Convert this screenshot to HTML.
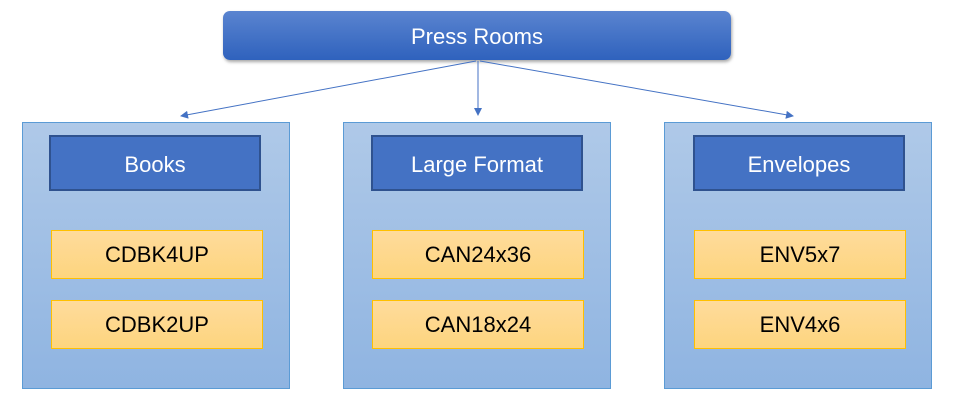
<!DOCTYPE html>
<html><head><style>
body{margin:0;width:956px;height:410px;background:#fff;position:relative;font-family:"Liberation Sans",sans-serif;overflow:hidden}
.a{position:absolute;box-sizing:border-box;display:flex;align-items:center;justify-content:center}
.top{left:223px;top:11px;width:508px;height:49px;border-radius:7px;background:linear-gradient(#5a84d0,#2f62bd);color:#fff;font-size:22px;box-shadow:1px 2px 3px rgba(0,0,0,.35);padding-top:3px}
.p{top:122px;width:268px;height:267px;border:1px solid #5b9bd5;background:linear-gradient(#afc9e8,#8fb4e1)}
.h{top:135px;width:212px;height:56px;background:#4472c4;border:2px solid #2f528f;color:#fff;font-size:22px;padding-top:3px}
.y{width:212px;height:49px;border:1px solid #ffc000;background:linear-gradient(#fedb9c,#fdd57e);color:#000;font-size:22px;padding-top:1px}
</style></head><body>
<div class="a top">Press Rooms</div>
<svg style="position:absolute;left:0;top:0" width="956" height="410">
<defs><marker id="m" markerWidth="8" markerHeight="8" refX="7" refY="4" orient="auto" markerUnits="userSpaceOnUse"><path d="M0,0L8,4L0,8z" fill="#4472c4"/></marker></defs>
<g stroke="#4472c4" stroke-width="1" fill="none">
<line x1="476" y1="61" x2="181" y2="116" marker-end="url(#m)"/>
<line x1="478" y1="61" x2="478" y2="115" marker-end="url(#m)"/>
<line x1="480" y1="61" x2="793" y2="116" marker-end="url(#m)"/>
</g></svg>
<div class="a p" style="left:22px"></div>
<div class="a p" style="left:343px"></div>
<div class="a p" style="left:664px"></div>
<div class="a h" style="left:49px">Books</div>
<div class="a h" style="left:371px">Large Format</div>
<div class="a h" style="left:693px">Envelopes</div>
<div class="a y" style="left:51px;top:230px">CDBK4UP</div>
<div class="a y" style="left:51px;top:300px">CDBK2UP</div>
<div class="a y" style="left:372px;top:230px">CAN24x36</div>
<div class="a y" style="left:372px;top:300px">CAN18x24</div>
<div class="a y" style="left:694px;top:230px">ENV5x7</div>
<div class="a y" style="left:694px;top:300px">ENV4x6</div>
</body></html>
